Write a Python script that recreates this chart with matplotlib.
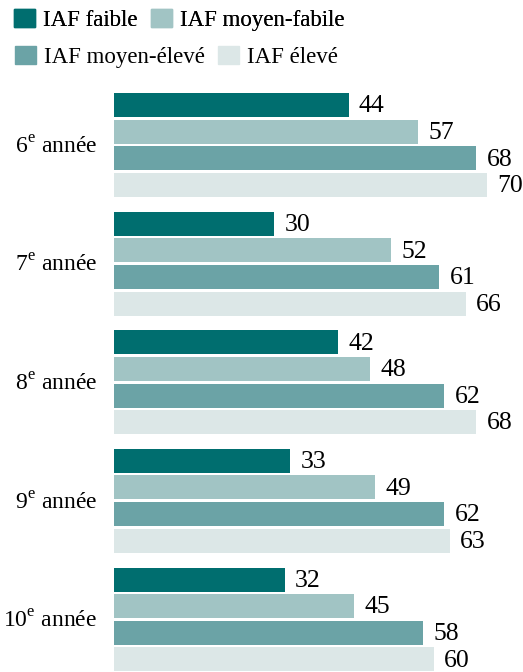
import matplotlib
matplotlib.use("Agg")
from matplotlib import pyplot as plt
from matplotlib.patches import Patch

plt.rcParams['font.family'] = ['Liberation Serif', 'DejaVu Serif']
plt.rcParams['mathtext.fontset'] = 'custom'
plt.rcParams['mathtext.rm'] = 'Liberation Serif'

grades = ["6", "7", "8", "9", "10"]
series_names = ["IAF faible", "IAF moyen-fabile", "IAF moyen-élevé", "IAF élevé"]
faible = [44, 30, 42, 33, 32]
moyen_fabile = [57, 52, 48, 49, 45]
moyen_eleve = [68, 61, 62, 62, 58]
eleve = [70, 66, 68, 63, 60]
colors = ["#006E6F", "#A1C4C4", "#6BA3A6", "#DCE7E7"]

series = [faible, moyen_fabile, moyen_eleve, eleve]

W, H = 523, 672
fig = plt.figure(figsize=(W / 100, H / 100), dpi=100)
x0 = 114
px_per_unit = 5.33
ax = fig.add_axes([x0 / W, 0, (W - x0) / W, 1])
ax.set_xlim(0, (W - x0) / px_per_unit)
ax.set_ylim(H, 0)  # y in pixel units from the top

group_pitch = 118.6
bar_pitch = 26.6
first_center = 145
bar_h = 24

for i, vals in enumerate(series):
    for g, v in enumerate(vals):
        yc = first_center + g * group_pitch + (i - 1.5) * bar_pitch
        ax.barh(yc, v, height=bar_h, color=colors[i], linewidth=0)
        ax.annotate(str(v), (v, yc), xytext=(7.5, -1), textcoords="offset points",
                    va="center", ha="left", fontsize=18.5)

ax.set_yticks([first_center + g * group_pitch for g in range(len(grades))])
ax.set_yticklabels([f"{g}$^{{\\mathrm{{e}}}}$ année" for g in grades], fontsize=17)
ax.tick_params(axis="y", length=0, pad=12)
ax.set_xticks([])
for s in ax.spines.values():
    s.set_visible(False)

# legend: two rows, columns not aligned
handles = [Patch(color=c) for c in colors]
leg_kw = dict(frameon=False, fontsize=16.5, ncol=2, handlelength=0.9, handleheight=0.85,
              handletextpad=0.35, columnspacing=0.6, borderaxespad=0, borderpad=0,
              loc="upper left")
leg1 = fig.legend(handles[:2], series_names[:2], bbox_to_anchor=(14 / W, 1 - 9 / H), **leg_kw)
fig.add_artist(leg1)
fig.legend(handles[2:], series_names[2:], bbox_to_anchor=(15 / W, 1 - 46 / H), **leg_kw)

fig.savefig("out.png", dpi=100)
